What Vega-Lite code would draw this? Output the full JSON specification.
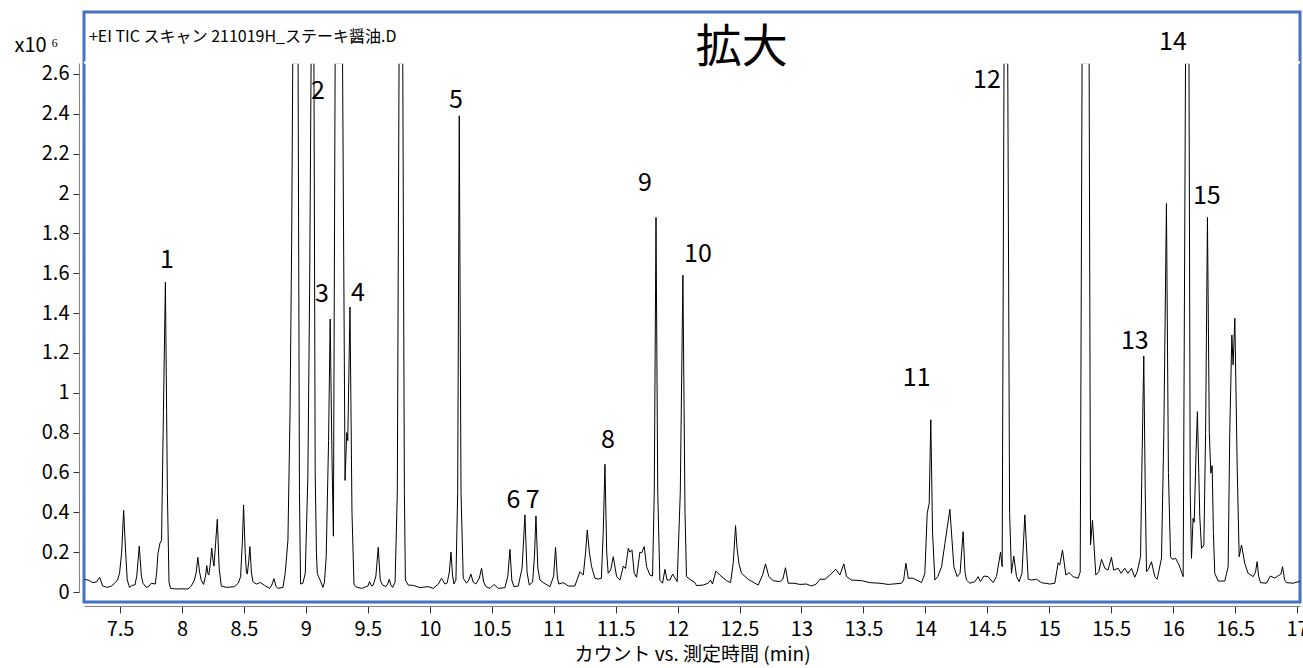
{
  "$schema": "https://vega.github.io/schema/vega-lite/v6.json",
  "width": 1216,
  "height": 590,
  "autosize": {"type": "none"},
  "padding": {"left": 84, "top": 12, "right": 3, "bottom": 66},
  "background": "white",
  "config": {
    "view": {"stroke": "#4472C4", "strokeWidth": 3},
    "font": "Noto Sans CJK JP",
    "text": {"font": "Noto Sans CJK JP", "color": "#000000"}
  },
  "datasets": {
    "tic": [
      {"t":7.214,"v":0.064},{"t":7.25,"v":0.058},{"t":7.28,"v":0.047},{"t":7.31,"v":0.05},{"t":7.335,"v":0.074},{"t":7.36,"v":0.03},{"t":7.40,"v":0.023},{"t":7.43,"v":0.03},{"t":7.456,"v":0.044},{"t":7.48,"v":0.06},{"t":7.496,"v":0.094},{"t":7.513,"v":0.2},{"t":7.529,"v":0.41},{"t":7.545,"v":0.2},{"t":7.558,"v":0.06},{"t":7.577,"v":0.023},{"t":7.59,"v":0.03},{"t":7.604,"v":0.035},{"t":7.62,"v":0.035},{"t":7.635,"v":0.08},{"t":7.655,"v":0.23},{"t":7.672,"v":0.08},{"t":7.685,"v":0.044},{"t":7.712,"v":0.023},{"t":7.735,"v":0.03},{"t":7.752,"v":0.044},{"t":7.784,"v":0.04},{"t":7.796,"v":0.1},{"t":7.806,"v":0.194},{"t":7.822,"v":0.244},{"t":7.835,"v":0.26},{"t":7.85,"v":0.9},{"t":7.866,"v":1.555},{"t":7.882,"v":0.5},{"t":7.895,"v":0.05},{"t":7.908,"v":0.018},{"t":7.94,"v":0.016},{"t":7.967,"v":0.015},{"t":8.0,"v":0.016},{"t":8.048,"v":0.015},{"t":8.075,"v":0.03},{"t":8.10,"v":0.06},{"t":8.115,"v":0.1},{"t":8.128,"v":0.174},{"t":8.142,"v":0.1},{"t":8.155,"v":0.06},{"t":8.174,"v":0.038},{"t":8.19,"v":0.08},{"t":8.2,"v":0.132},{"t":8.21,"v":0.09},{"t":8.217,"v":0.085},{"t":8.23,"v":0.15},{"t":8.24,"v":0.22},{"t":8.25,"v":0.16},{"t":8.258,"v":0.13},{"t":8.272,"v":0.25},{"t":8.285,"v":0.365},{"t":8.3,"v":0.12},{"t":8.317,"v":0.03},{"t":8.357,"v":0.023},{"t":8.39,"v":0.025},{"t":8.424,"v":0.027},{"t":8.455,"v":0.045},{"t":8.473,"v":0.077},{"t":8.487,"v":0.25},{"t":8.497,"v":0.437},{"t":8.51,"v":0.2},{"t":8.52,"v":0.1},{"t":8.527,"v":0.09},{"t":8.538,"v":0.15},{"t":8.548,"v":0.228},{"t":8.56,"v":0.1},{"t":8.572,"v":0.052},{"t":8.6,"v":0.04},{"t":8.62,"v":0.045},{"t":8.634,"v":0.047},{"t":8.667,"v":0.033},{"t":8.707,"v":0.018},{"t":8.725,"v":0.035},{"t":8.742,"v":0.067},{"t":8.758,"v":0.03},{"t":8.774,"v":0.018},{"t":8.815,"v":0.023},{"t":8.833,"v":0.094},{"t":8.855,"v":0.26},{"t":8.872,"v":0.9},{"t":8.885,"v":1.75},{"t":8.894,"v":3.4},{"t":8.915,"v":6.0},{"t":8.937,"v":3.4},{"t":8.948,"v":0.5},{"t":8.957,"v":0.04},{"t":8.976,"v":0.044},{"t":8.995,"v":0.094},{"t":9.016,"v":0.58},{"t":9.03,"v":1.5},{"t":9.042,"v":3.2},{"t":9.053,"v":5.5},{"t":9.065,"v":3.2},{"t":9.075,"v":0.6},{"t":9.085,"v":0.2},{"t":9.092,"v":0.094},{"t":9.10,"v":0.08},{"t":9.115,"v":0.06},{"t":9.137,"v":0.023},{"t":9.15,"v":0.05},{"t":9.164,"v":0.177},{"t":9.183,"v":0.76},{"t":9.196,"v":1.37},{"t":9.21,"v":0.7},{"t":9.222,"v":0.28},{"t":9.236,"v":3.0},{"t":9.265,"v":7.0},{"t":9.296,"v":3.0},{"t":9.316,"v":0.56},{"t":9.33,"v":0.8},{"t":9.338,"v":0.76},{"t":9.356,"v":1.43},{"t":9.372,"v":0.4},{"t":9.388,"v":0.04},{"t":9.40,"v":0.027},{"t":9.447,"v":0.018},{"t":9.48,"v":0.025},{"t":9.5,"v":0.03},{"t":9.514,"v":0.052},{"t":9.53,"v":0.03},{"t":9.544,"v":0.035},{"t":9.565,"v":0.08},{"t":9.584,"v":0.224},{"t":9.6,"v":0.06},{"t":9.619,"v":0.035},{"t":9.646,"v":0.027},{"t":9.66,"v":0.04},{"t":9.673,"v":0.064},{"t":9.686,"v":0.035},{"t":9.7,"v":0.023},{"t":9.72,"v":0.05},{"t":9.738,"v":0.5},{"t":9.752,"v":3.5},{"t":9.767,"v":9.0},{"t":9.782,"v":3.5},{"t":9.795,"v":0.5},{"t":9.803,"v":0.06},{"t":9.826,"v":0.035},{"t":9.867,"v":0.033},{"t":9.92,"v":0.022},{"t":9.96,"v":0.025},{"t":9.988,"v":0.027},{"t":10.028,"v":0.018},{"t":10.05,"v":0.03},{"t":10.069,"v":0.04},{"t":10.095,"v":0.069},{"t":10.122,"v":0.04},{"t":10.14,"v":0.045},{"t":10.158,"v":0.1},{"t":10.171,"v":0.2},{"t":10.184,"v":0.08},{"t":10.195,"v":0.04},{"t":10.211,"v":0.06},{"t":10.225,"v":0.5},{"t":10.238,"v":2.39},{"t":10.252,"v":0.5},{"t":10.27,"v":0.069},{"t":10.297,"v":0.044},{"t":10.315,"v":0.06},{"t":10.332,"v":0.09},{"t":10.35,"v":0.05},{"t":10.373,"v":0.04},{"t":10.4,"v":0.07},{"t":10.418,"v":0.119},{"t":10.435,"v":0.05},{"t":10.453,"v":0.027},{"t":10.486,"v":0.018},{"t":10.518,"v":0.038},{"t":10.553,"v":0.018},{"t":10.607,"v":0.022},{"t":10.63,"v":0.08},{"t":10.647,"v":0.214},{"t":10.662,"v":0.06},{"t":10.679,"v":0.027},{"t":10.714,"v":0.03},{"t":10.745,"v":0.12},{"t":10.768,"v":0.387},{"t":10.785,"v":0.1},{"t":10.803,"v":0.035},{"t":10.83,"v":0.05},{"t":10.845,"v":0.18},{"t":10.857,"v":0.382},{"t":10.872,"v":0.12},{"t":10.889,"v":0.06},{"t":10.916,"v":0.047},{"t":10.97,"v":0.027},{"t":11.0,"v":0.08},{"t":11.015,"v":0.224},{"t":11.03,"v":0.07},{"t":11.042,"v":0.04},{"t":11.077,"v":0.047},{"t":11.118,"v":0.03},{"t":11.171,"v":0.03},{"t":11.212,"v":0.102},{"t":11.239,"v":0.085},{"t":11.258,"v":0.2},{"t":11.271,"v":0.311},{"t":11.288,"v":0.2},{"t":11.306,"v":0.127},{"t":11.333,"v":0.069},{"t":11.36,"v":0.065},{"t":11.385,"v":0.069},{"t":11.4,"v":0.3},{"t":11.414,"v":0.641},{"t":11.428,"v":0.2},{"t":11.44,"v":0.094},{"t":11.46,"v":0.11},{"t":11.481,"v":0.177},{"t":11.508,"v":0.077},{"t":11.535,"v":0.06},{"t":11.562,"v":0.13},{"t":11.58,"v":0.118},{"t":11.602,"v":0.219},{"t":11.615,"v":0.2},{"t":11.632,"v":0.211},{"t":11.65,"v":0.094},{"t":11.669,"v":0.074},{"t":11.696,"v":0.2},{"t":11.71,"v":0.196},{"t":11.731,"v":0.228},{"t":11.75,"v":0.127},{"t":11.777,"v":0.085},{"t":11.798,"v":0.08},{"t":11.812,"v":0.5},{"t":11.826,"v":1.88},{"t":11.84,"v":0.5},{"t":11.857,"v":0.06},{"t":11.879,"v":0.044},{"t":11.898,"v":0.114},{"t":11.915,"v":0.06},{"t":11.938,"v":0.06},{"t":11.96,"v":0.09},{"t":11.997,"v":0.052},{"t":12.022,"v":0.5},{"t":12.043,"v":1.59},{"t":12.06,"v":0.4},{"t":12.072,"v":0.077},{"t":12.099,"v":0.064},{"t":12.14,"v":0.047},{"t":12.153,"v":0.032},{"t":12.207,"v":0.035},{"t":12.247,"v":0.044},{"t":12.266,"v":0.06},{"t":12.282,"v":0.04},{"t":12.309,"v":0.105},{"t":12.341,"v":0.085},{"t":12.395,"v":0.057},{"t":12.428,"v":0.047},{"t":12.45,"v":0.15},{"t":12.468,"v":0.333},{"t":12.48,"v":0.22},{"t":12.495,"v":0.144},{"t":12.516,"v":0.094},{"t":12.57,"v":0.064},{"t":12.624,"v":0.044},{"t":12.651,"v":0.035},{"t":12.686,"v":0.085},{"t":12.71,"v":0.141},{"t":12.737,"v":0.077},{"t":12.772,"v":0.057},{"t":12.826,"v":0.052},{"t":12.85,"v":0.065},{"t":12.871,"v":0.122},{"t":12.893,"v":0.044},{"t":12.94,"v":0.044},{"t":12.987,"v":0.038},{"t":13.041,"v":0.04},{"t":13.081,"v":0.03},{"t":13.12,"v":0.04},{"t":13.149,"v":0.064},{"t":13.19,"v":0.064},{"t":13.229,"v":0.085},{"t":13.278,"v":0.114},{"t":13.31,"v":0.085},{"t":13.342,"v":0.141},{"t":13.364,"v":0.077},{"t":13.404,"v":0.06},{"t":13.485,"v":0.057},{"t":13.552,"v":0.047},{"t":13.633,"v":0.044},{"t":13.7,"v":0.038},{"t":13.74,"v":0.04},{"t":13.808,"v":0.044},{"t":13.825,"v":0.06},{"t":13.843,"v":0.144},{"t":13.862,"v":0.069},{"t":13.902,"v":0.069},{"t":13.969,"v":0.047},{"t":13.996,"v":0.094},{"t":14.015,"v":0.395},{"t":14.031,"v":0.445},{"t":14.044,"v":0.865},{"t":14.058,"v":0.3},{"t":14.077,"v":0.06},{"t":14.1,"v":0.077},{"t":14.131,"v":0.127},{"t":14.158,"v":0.244},{"t":14.198,"v":0.415},{"t":14.23,"v":0.127},{"t":14.257,"v":0.077},{"t":14.28,"v":0.094},{"t":14.305,"v":0.303},{"t":14.32,"v":0.1},{"t":14.332,"v":0.06},{"t":14.359,"v":0.044},{"t":14.4,"v":0.052},{"t":14.426,"v":0.077},{"t":14.445,"v":0.052},{"t":14.472,"v":0.08},{"t":14.507,"v":0.077},{"t":14.547,"v":0.047},{"t":14.574,"v":0.077},{"t":14.607,"v":0.2},{"t":14.62,"v":0.127},{"t":14.635,"v":3.0},{"t":14.65,"v":6.0},{"t":14.665,"v":3.0},{"t":14.68,"v":0.4},{"t":14.695,"v":0.094},{"t":14.714,"v":0.18},{"t":14.736,"v":0.077},{"t":14.757,"v":0.052},{"t":14.78,"v":0.094},{"t":14.803,"v":0.387},{"t":14.83,"v":0.064},{"t":14.857,"v":0.06},{"t":14.897,"v":0.064},{"t":14.937,"v":0.047},{"t":15.005,"v":0.04},{"t":15.045,"v":0.044},{"t":15.072,"v":0.147},{"t":15.085,"v":0.135},{"t":15.107,"v":0.211},{"t":15.134,"v":0.085},{"t":15.16,"v":0.097},{"t":15.193,"v":0.077},{"t":15.233,"v":0.069},{"t":15.25,"v":0.1},{"t":15.265,"v":3.0},{"t":15.295,"v":8.0},{"t":15.322,"v":3.0},{"t":15.333,"v":0.236},{"t":15.349,"v":0.36},{"t":15.376,"v":0.085},{"t":15.4,"v":0.102},{"t":15.422,"v":0.164},{"t":15.449,"v":0.119},{"t":15.475,"v":0.11},{"t":15.502,"v":0.174},{"t":15.52,"v":0.11},{"t":15.556,"v":0.119},{"t":15.58,"v":0.094},{"t":15.61,"v":0.119},{"t":15.635,"v":0.094},{"t":15.664,"v":0.119},{"t":15.69,"v":0.074},{"t":15.71,"v":0.102},{"t":15.737,"v":0.177},{"t":15.75,"v":0.7},{"t":15.763,"v":1.185},{"t":15.775,"v":0.5},{"t":15.785,"v":0.102},{"t":15.8,"v":0.114},{"t":15.825,"v":0.152},{"t":15.852,"v":0.077},{"t":15.871,"v":0.064},{"t":15.906,"v":0.169},{"t":15.925,"v":0.8},{"t":15.946,"v":1.95},{"t":15.962,"v":0.6},{"t":15.979,"v":0.177},{"t":15.995,"v":0.164},{"t":16.02,"v":0.169},{"t":16.048,"v":0.135},{"t":16.081,"v":0.077},{"t":16.1,"v":3.0},{"t":16.114,"v":6.0},{"t":16.128,"v":3.0},{"t":16.138,"v":0.5},{"t":16.148,"v":0.169},{"t":16.161,"v":0.37},{"t":16.17,"v":0.35},{"t":16.185,"v":0.7},{"t":16.196,"v":0.905},{"t":16.207,"v":0.6},{"t":16.215,"v":0.378},{"t":16.229,"v":0.219},{"t":16.248,"v":0.236},{"t":16.262,"v":0.8},{"t":16.277,"v":1.88},{"t":16.292,"v":0.8},{"t":16.304,"v":0.596},{"t":16.315,"v":0.634},{"t":16.325,"v":0.3},{"t":16.336,"v":0.094},{"t":16.363,"v":0.055},{"t":16.417,"v":0.055},{"t":16.444,"v":0.127},{"t":16.457,"v":0.8},{"t":16.474,"v":1.29},{"t":16.484,"v":1.14},{"t":16.498,"v":1.374},{"t":16.517,"v":0.63},{"t":16.533,"v":0.177},{"t":16.552,"v":0.236},{"t":16.578,"v":0.144},{"t":16.605,"v":0.094},{"t":16.646,"v":0.077},{"t":16.665,"v":0.1},{"t":16.678,"v":0.152},{"t":16.69,"v":0.08},{"t":16.705,"v":0.047},{"t":16.753,"v":0.044},{"t":16.785,"v":0.08},{"t":16.82,"v":0.07},{"t":16.845,"v":0.08},{"t":16.87,"v":0.09},{"t":16.883,"v":0.127},{"t":16.9,"v":0.06},{"t":16.915,"v":0.047},{"t":16.969,"v":0.044},{"t":17.0,"v":0.05},{"t":17.022,"v":0.052}
    ],
    "peaks": [
      {"t":7.878,"v":1.667,"label":"1"},
      {"t":9.097,"v":2.515,"label":"2"},
      {"t":9.129,"v":1.496,"label":"3"},
      {"t":9.42,"v":1.50,"label":"4"},
      {"t":10.211,"v":2.47,"label":"5"},
      {"t":10.675,"v":0.46,"label":"6"},
      {"t":10.83,"v":0.46,"label":"7"},
      {"t":11.438,"v":0.763,"label":"8"},
      {"t":11.736,"v":2.053,"label":"9"},
      {"t":12.164,"v":1.697,"label":"10"},
      {"t":13.93,"v":1.074,"label":"11"},
      {"t":14.497,"v":2.57,"label":"12"},
      {"t":15.691,"v":1.26,"label":"13"},
      {"t":15.998,"v":2.761,"label":"14"},
      {"t":16.272,"v":1.988,"label":"15"}
    ],
    "header": [
      {"t":7.249,"v":2.786,"label":"+EI TIC スキャン 211019H_ステーキ醤油.D"}
    ],
    "zoomnote": [
      {"t":12.519,"v":2.731,"label":"拡大"}
    ]
  },
  "layer": [
    {
      "data": {"name": "tic"},
      "mark": {"type": "line", "color": "#000000", "strokeWidth": 1, "interpolate": "linear"},
      "encoding": {
        "x": {
          "field": "t", "type": "quantitative",
          "scale": {"domain": [7.209, 17.024], "nice": false, "zero": false},
          "axis": {
            "values": [7.5,8,8.5,9,9.5,10,10.5,11,11.5,12,12.5,13,13.5,14,14.5,15,15.5,16,16.5,17],
            "format": "~g",
            "title": "カウント vs. 測定時間 (min)",
            "grid": false, "offset": 4, "tickSize": 7,
            "labelFontSize": 20, "labelPadding": 6, "labelFlush": false, "labelOverlap": false,
            "labelColor": "#000000", "labelFont": "Noto Sans CJK JP",
            "titleFontSize": 19, "titleFontWeight": "normal", "titleColor": "#000000", "titleFont": "Noto Sans CJK JP", "titlePadding": 6,
            "domainColor": "#808080", "tickColor": "#333333"
          }
        },
        "y": {
          "field": "v", "type": "quantitative",
          "scale": {"domain": [0, 2.655], "range": [580, 51], "clamp": true, "nice": false, "zero": false},
          "axis": {
            "values": [0,0.2,0.4,0.6,0.8,1,1.2,1.4,1.6,1.8,2,2.2,2.4,2.6],
            "format": "~g",
            "title": "x10 ⁶",
            "titleAngle": 0, "titleX": -65, "titleY": 33, "titleAlign": "left", "titleBaseline": "middle",
            "titleFontSize": 20, "titleFontWeight": "normal", "titleColor": "#000000", "titleFont": "Noto Sans CJK JP",
            "grid": false, "offset": 5, "tickSize": 6,
            "labelFontSize": 20, "labelPadding": 4, "labelColor": "#000000", "labelFont": "Noto Sans CJK JP", "labelFlush": false, "labelOverlap": false,
            "domainColor": "#808080", "tickColor": "#333333"
          }
        }
      }
    },
    {
      "data": {"name": "header"},
      "mark": {"type": "rule", "color": "#ffffff", "strokeWidth": 2.5},
      "encoding": {
        "y": {"datum": 2.658, "type": "quantitative", "scale": {"domain": [0, 2.655], "range": [580, 51], "nice": false, "zero": false}, "axis": null}
      }
    },
    {
      "data": {"name": "peaks"},
      "mark": {"type": "text", "fontSize": 25, "align": "center", "baseline": "middle", "color": "#000000"},
      "encoding": {
        "x": {"field": "t", "type": "quantitative"},
        "y": {"field": "v", "type": "quantitative", "scale": {"domain": [0, 2.911], "range": [580, 0], "nice": false, "zero": false}, "axis": null},
        "text": {"field": "label"}
      }
    },
    {
      "data": {"name": "header"},
      "mark": {"type": "text", "fontSize": 16, "align": "left", "baseline": "middle", "color": "#000000"},
      "encoding": {
        "x": {"field": "t", "type": "quantitative"},
        "y": {"field": "v", "type": "quantitative", "scale": {"domain": [0, 2.911], "range": [580, 0], "nice": false, "zero": false}, "axis": null},
        "text": {"field": "label"}
      }
    },
    {
      "data": {"name": "zoomnote"},
      "mark": {"type": "text", "fontSize": 46, "align": "center", "baseline": "middle", "color": "#000000"},
      "encoding": {
        "x": {"field": "t", "type": "quantitative"},
        "y": {"field": "v", "type": "quantitative", "scale": {"domain": [0, 2.911], "range": [580, 0], "nice": false, "zero": false}, "axis": null},
        "text": {"field": "label"}
      }
    }
  ],
  "resolve": {"scale": {"y": "independent"}}
}
